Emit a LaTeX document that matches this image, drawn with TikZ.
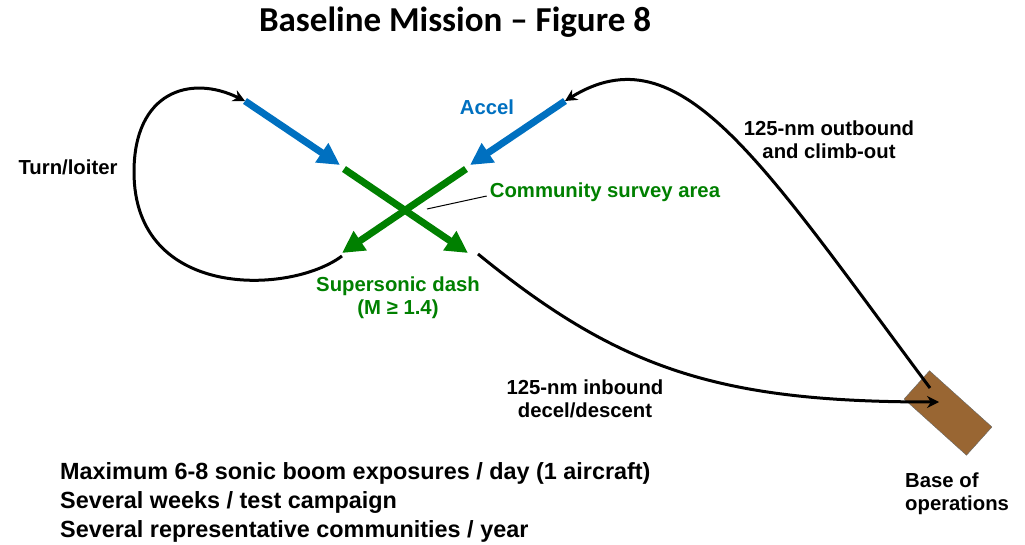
\documentclass[tikz,border=0pt]{standalone}
\usepackage{fontspec}
\setmainfont{Liberation Sans}
\newfontfamily\titlefont{Carlito}
\usetikzlibrary{arrows.meta,positioning}
\definecolor{accelblue}{HTML}{0070C0}
\definecolor{dashgreen}{HTML}{008000}
\definecolor{basebrown}{HTML}{996633}
\tikzset{
  lbl/.style={font=\bfseries\fontsize{20.3}{23}\selectfont, align=center, inner sep=0pt},
  accel/.style={accelblue, line width=7pt, -{Triangle[width=22pt,length=22pt]}},
  sdash/.style={dashgreen, line width=7pt, -{Triangle[width=22pt,length=22pt]}},
  track/.style={black, line width=3pt, -{Stealth[width=12pt,length=12pt]}},
  basebox/.style={draw=black!60, fill=basebrown, rotate=-42, minimum width=84pt, minimum height=38pt, inner sep=0pt}
}
\begin{document}
\begin{tikzpicture}[x=1pt,y=-1pt]
\useasboundingbox (0,0) rectangle (1025,545);
\node[font=\titlefont\bfseries\fontsize{35}{38}\selectfont] (title) at (455,22) {Baseline Mission \textendash{} Figure 8};
% accel legs
\coordinate (a1) at (245,101);
\coordinate (a2) at (340,165);
\coordinate (b1) at (565,101);
\coordinate (b2) at (470,165);
\draw[accel] (a1) -- (a2);
\draw[accel] (b1) -- (b2);
% supersonic dash legs
\coordinate (c1) at (344,169);
\coordinate (c2) at (468,253);
\coordinate (d1) at (466,169);
\coordinate (d2) at (342,253);
\draw[sdash] (c1) -- (c2);
\draw[sdash] (d1) -- (d2);
% base
\node[basebox] (base) at (948,413) {};
\coordinate (dock) at (939,402);
% turn/loiter loop
\coordinate (l1) at (342,256);
\coordinate (l2) at (134,172);
\draw[track] (l1) .. controls (290,295) and (134,300) .. (l2)
  .. controls (134,92) and (190,74) .. (a1);
% outbound and inbound
\coordinate (o1) at (930,388);
\coordinate (i1) at (478,254);
\draw[track] (o1) .. controls (760,160) and (680,30) .. (b1);
\draw[track] (i1) .. controls (620,370) and (720,402) .. (dock);
% labels
\node[lbl, accelblue] (accel) at (487,107) {Accel};
\node[lbl, dashgreen] (survey) at (605,192) {Community survey area};
\coordinate (x) at (427,209);
\draw[line width=1pt] (survey.west) ++(-3,4) -- (x);
\node[lbl, dashgreen] (dashlbl) at (398,298) {Supersonic dash\\(M ≥ 1.4)};
\node[lbl] (loiter) at (68,167) {Turn/loiter};
\node[lbl] (outbound) at (829,140) {125-nm outbound\\and climb-out};
\node[lbl] (inbound) at (585,399) {125-nm inbound\\decel/descent};
\node[lbl, align=left, anchor=west] (baselbl) at (905,494) {Base of\\operations};
\node[font=\bfseries\fontsize{23.4}{29}\selectfont, align=left, anchor=west, inner sep=0pt] (notes) at (60,502)
  {Maximum 6-8 sonic boom exposures / day (1 aircraft)\\Several weeks / test campaign\\Several representative communities / year};
\end{tikzpicture}
\end{document}
